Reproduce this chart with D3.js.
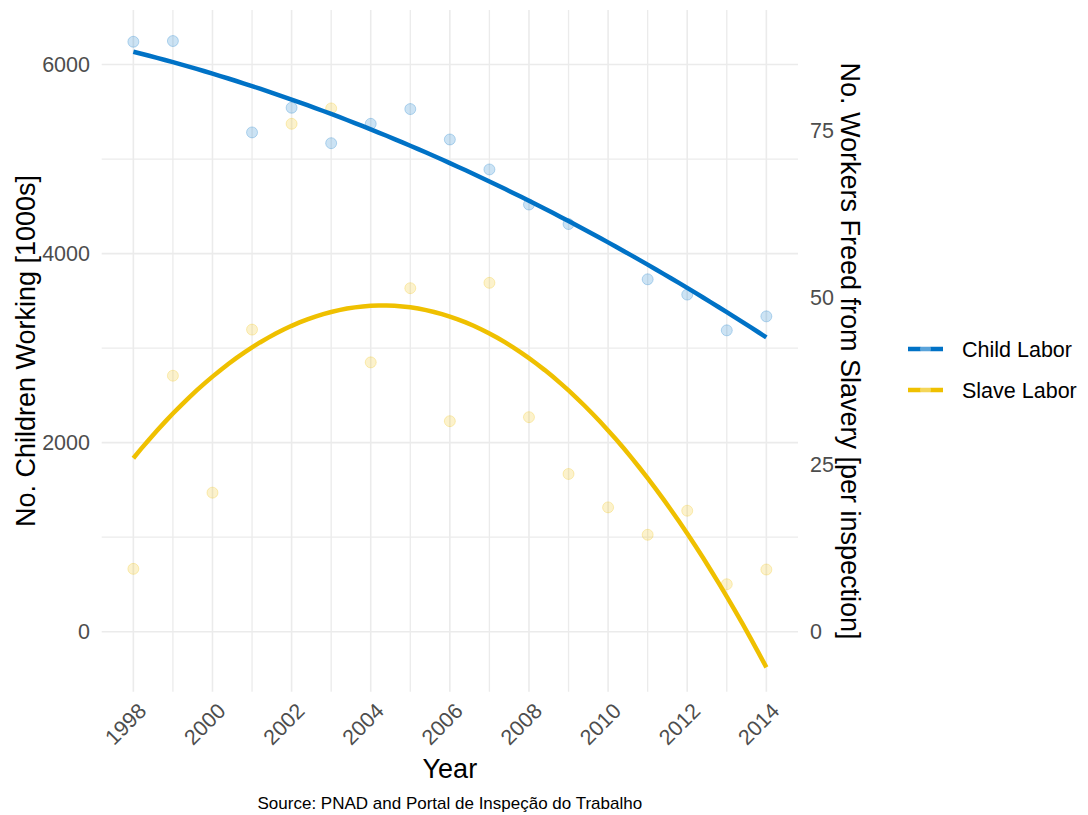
<!DOCTYPE html>
<html>
<head>
<meta charset="utf-8">
<script src="https://cdn.jsdelivr.net/npm/d3@7"></script>
<style>
  body { margin: 0; background: #fff; }
  text { font-family: "Liberation Sans", Arial, sans-serif; }
</style>
</head>
<body>
<div id="chart-area"></div>
<script>
// child labour, PNAD (no survey in 2000 / 2010)
var childYears = [1998, 1999, 2001, 2002, 2003, 2004, 2005, 2006, 2007, 2008, 2009, 2011, 2012, 2013, 2014];
var childValues = [6241, 6249, 5282, 5543, 5168, 5373, 5529, 5207, 4890, 4519, 4313, 3728, 3566, 3188, 3336];

// workers freed from slavery per inspection
var slaveYears = [1998, 1999, 2000, 2001, 2002, 2003, 2004, 2005, 2006, 2007, 2008, 2009, 2010, 2011, 2012, 2013, 2014];
var slaveValues = [9.4, 38.3, 20.8, 45.2, 76.0, 78.3, 40.3, 51.4, 31.5, 52.2, 32.1, 23.6, 18.6, 14.5, 18.1, 7.1, 9.3];

var seriesNames = ["Child Labor", "Slave Labor"];
var seriesColors = ["#0072C6", "#EFC000"];

var xTicks = [1998, 2000, 2002, 2004, 2006, 2008, 2010, 2012, 2014];
var yTicks = [0, 2000, 4000, 6000];
var y2Ticks = [0, 25, 50, 75];
var secFactor = 70.7;   // right axis -> left axis units

var width = 1088, height = 815;

var svg = d3.select("#chart-area").append("svg")
    .attr("width", width)
    .attr("height", height);

var x = d3.scaleLinear()
    .domain([1997.2, 2014.8])
    .range([101.7, 798]);

var y = d3.scaleLinear()
    .domain([-635, 6577])
    .range([691.7, 10]);

// quadratic least squares, like geom_smooth(method = "lm", formula = y ~ poly(x, 2))
function quadFit(xs, ys) {
    var n = xs.length, s = [0, 0, 0, 0, 0], r = [0, 0, 0];
    for (var i = 0; i < n; i++) {
        var t = xs[i] - 2006;
        for (var k = 0; k < 5; k++) s[k] += Math.pow(t, k);
        for (var k2 = 0; k2 < 3; k2++) r[k2] += ys[i] * Math.pow(t, k2);
    }
    var m = [[s[0], s[1], s[2], r[0]], [s[1], s[2], s[3], r[1]], [s[2], s[3], s[4], r[2]]];
    for (var c = 0; c < 3; c++) {
        for (var rr = c + 1; rr < 3; rr++) {
            var f = m[rr][c] / m[c][c];
            for (var j = c; j < 4; j++) m[rr][j] -= f * m[c][j];
        }
    }
    var b = [0, 0, 0];
    for (var c2 = 2; c2 >= 0; c2--) {
        var v = m[c2][3];
        for (var j2 = c2 + 1; j2 < 3; j2++) v -= m[c2][j2] * b[j2];
        b[c2] = v / m[c2][c2];
    }
    return function(xv) { var t = xv - 2006; return b[0] + b[1] * t + b[2] * t * t; };
}

var childData = childYears.map((d, i) => ({year: d, value: childValues[i]}));
var slaveData = slaveYears.map((d, i) => ({year: d, value: slaveValues[i] * secFactor}));

// grid
var grid = svg.append("g");
grid.selectAll(".vgrid")
    .data(d3.range(1998, 2015))
    .enter().append("line")
        .attr("x1", d => x(d)).attr("x2", d => x(d))
        .attr("y1", 10).attr("y2", 691.7)
        .attr("stroke", "#EBEBEB")
        .attr("stroke-width", d => d % 2 === 0 ? 1.6 : 1.3);
grid.selectAll(".hgrid")
    .data(d3.range(0, 7000, 1000))
    .enter().append("line")
        .attr("x1", 101.7).attr("x2", 798)
        .attr("y1", d => y(d)).attr("y2", d => y(d))
        .attr("stroke", "#EBEBEB")
        .attr("stroke-width", d => d % 2000 === 0 ? 1.6 : 1.3);

// points
var pts = svg.append("g");
[childData, slaveData].forEach((data, i) => {
    pts.selectAll(".p" + i)
        .data(data)
        .enter().append("circle")
            .attr("cx", d => x(d.year))
            .attr("cy", d => y(d.value))
            .attr("r", 5.5)
            .attr("fill", seriesColors[i])
            .attr("fill-opacity", 0.2)
            .attr("stroke", seriesColors[i])
            .attr("stroke-opacity", 0.25)
            .attr("stroke-width", 1);
});

// fitted lines
var line = d3.line().x(d => x(d[0])).y(d => y(d[1]));
[childData, slaveData].forEach((data, i) => {
    var fit = quadFit(data.map(d => d.year), data.map(d => d.value));
    var xs = d3.range(0, 81).map(k => 1998 + k * 16 / 80);
    svg.append("path")
        .attr("d", line(xs.map(v => [v, fit(v)])))
        .attr("fill", "none")
        .attr("stroke", seriesColors[i])
        .attr("stroke-width", 4.5);
});

// axes (text only, like theme_minimal)
svg.append("g").selectAll("text")
    .data(yTicks)
    .enter().append("text")
        .attr("x", 90)
        .attr("y", d => y(d))
        .attr("dy", "0.35em")
        .attr("text-anchor", "end")
        .attr("font-size", "21.5px")
        .attr("fill", "#4D4D4D")
        .text(d => d);

svg.append("g").selectAll("text")
    .data(y2Ticks)
    .enter().append("text")
        .attr("x", 810)
        .attr("y", d => y(d * secFactor))
        .attr("dy", "0.35em")
        .attr("text-anchor", "start")
        .attr("font-size", "21.5px")
        .attr("fill", "#4D4D4D")
        .text(d => d);

svg.append("g").selectAll("text")
    .data(xTicks)
    .enter().append("text")
        .attr("transform", d => "translate(" + (x(d) + 3) + ",701) rotate(-45)")
        .attr("dy", "0.75em")
        .attr("text-anchor", "end")
        .attr("font-size", "21.5px")
        .attr("fill", "#4D4D4D")
        .text(d => d);

// titles
svg.append("text")
    .attr("x", x(2006))
    .attr("y", 778)
    .attr("text-anchor", "middle")
    .attr("font-size", "27px")
    .text("Year");

svg.append("text")
    .attr("transform", "translate(35,351) rotate(-90)")
    .attr("text-anchor", "middle")
    .attr("font-size", "27px")
    .text("No. Children Working [1000s]");

svg.append("text")
    .attr("transform", "translate(841,351) rotate(90)")
    .attr("text-anchor", "middle")
    .attr("font-size", "27px")
    .text("No. Workers Freed from Slavery [per inspection]");

svg.append("text")
    .attr("x", x(2006))
    .attr("y", 809)
    .attr("text-anchor", "middle")
    .attr("font-size", "17px")
    .text("Source: PNAD and Portal de Inspeção do Trabalho");

// legend
var legend = svg.append("g");
seriesNames.forEach((name, i) => {
    var ly = 349 + i * 41;
    legend.append("line")
        .attr("x1", 908).attr("x2", 943)
        .attr("y1", ly).attr("y2", ly)
        .attr("stroke", seriesColors[i])
        .attr("stroke-width", 4.5);
    legend.append("circle")
        .attr("cx", 925.5).attr("cy", ly).attr("r", 5.5)
        .attr("fill", "#fff").attr("fill-opacity", 0.35);
    legend.append("text")
        .attr("x", 962)
        .attr("y", ly)
        .attr("dy", "0.35em")
        .attr("font-size", "21.5px")
        .text(name);
});
</script>
</body>
</html>
